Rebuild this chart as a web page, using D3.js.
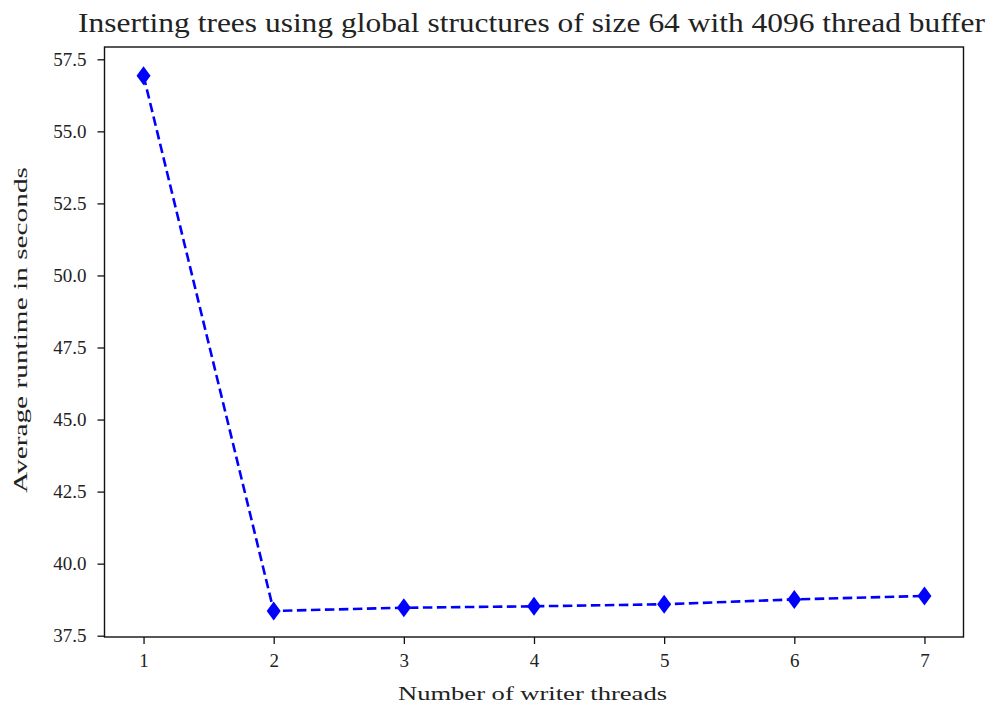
<!DOCTYPE html>
<html><head><meta charset="utf-8">
<script src="https://cdn.jsdelivr.net/npm/d3@7"></script>
<style>body{margin:0;background:#fff}svg{display:block}text{font-family:"Liberation Serif","DejaVu Serif",serif;fill:#222}</style>
</head><body>
<svg id="c" width="994" height="706"></svg>
<script>
const threads = [1, 2, 3, 4, 5, 6, 7];
const runtime = [56.93, 38.36, 38.47, 38.52, 38.59, 38.76, 38.88];
const yTicks = [37.5, 40.0, 42.5, 45.0, 47.5, 50.0, 52.5, 55.0, 57.5];
const title = "Inserting trees using global structures of size 64 with 4096 thread buffer";
const xLabel = "Number of writer threads";
const yLabel = "Average runtime in seconds";

const svg = d3.select("#c");
const L = 104.5, R = 963.5, T = 47, B = 637;
const x = d3.scaleLinear().domain([0.7, 7.3]).range([L, R]);
const y = d3.scaleLinear().domain([37.5, 57.5]).range([635.7, 59.3]);

const xAxis = svg.append("g").attr("transform", `translate(0,${B})`)
  .call(d3.axisBottom(x).tickValues(threads).tickFormat(d3.format("d")).tickSize(7).tickPadding(10));
const yAxis = svg.append("g").attr("transform", `translate(${L},0)`)
  .call(d3.axisLeft(y).tickValues(yTicks).tickFormat(d3.format(".1f")).tickSize(7).tickPadding(11));
[xAxis, yAxis].forEach(g => {
  g.select(".domain").remove();
  g.selectAll("line").attr("stroke", "#111").attr("stroke-width", 1.3);
  g.selectAll("text").style("font-family", '"Liberation Serif","DejaVu Serif",serif').style("font-size", "19px").attr("fill", "#222");
});
svg.append("rect").attr("x", L).attr("y", T).attr("width", R - L).attr("height", B - T)
  .attr("fill", "none").attr("stroke", "#111").attr("stroke-width", 1.4);

const line = d3.line().x((d, i) => x(threads[i])).y(d => y(d));
svg.append("path").datum(runtime).attr("d", line).attr("fill", "none")
  .attr("stroke", "#0000ff").attr("stroke-width", 2.6).attr("stroke-dasharray", "9.5,4.5");
svg.selectAll(".m").data(runtime).enter().append("path")
  .attr("transform", (d, i) => `translate(${x(threads[i])},${y(d)})`)
  .attr("d", "M0,-9.5L7,0L0,9.5L-7,0Z").attr("fill", "#0000ff");

svg.append("text").attr("x", 531.5).attr("y", 31.5).attr("text-anchor", "middle")
  .attr("textLength", 907).attr("lengthAdjust", "spacingAndGlyphs")
  .style("font-size", "27px").text(title);
svg.append("text").attr("x", 532.5).attr("y", 700).attr("text-anchor", "middle")
  .attr("textLength", 269).attr("lengthAdjust", "spacingAndGlyphs")
  .style("font-size", "18px").text(xLabel);
svg.append("text").attr("transform", `translate(27,330) rotate(-90)`).attr("text-anchor", "middle")
  .attr("textLength", 326).attr("lengthAdjust", "spacingAndGlyphs")
  .style("font-size", "18px").text(yLabel);
</script></body></html>
